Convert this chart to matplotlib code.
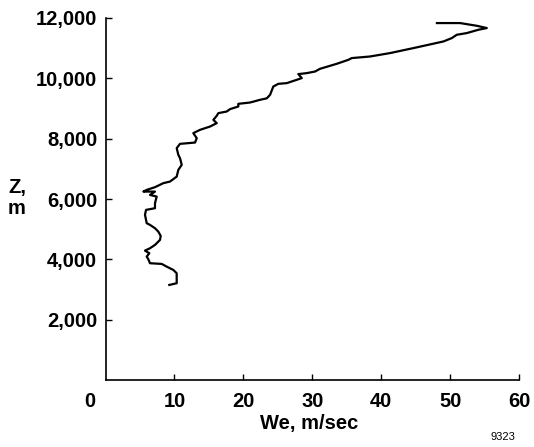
import matplotlib
matplotlib.use('Agg')
import matplotlib.pyplot as plt

# wind speed profile (bottom -> top)
we = [9.26, 10.33, 10.33, 9.84, 8.88, 8.16, 6.46, 6.21, 5.98, 6.36,
      5.73, 6.46, 7.18, 7.91, 8.01, 7.66, 7.18, 6.46, 5.98, 5.73,
      5.88, 7.18, 7.18, 7.43, 6.46, 7.18, 5.49, 5.98, 7.18, 8.39,
      9.36, 10.33, 10.57, 11.06, 10.81, 10.57, 10.33, 10.81, 12.99, 13.24,
      12.74, 13.72, 15.17, 16.14, 15.65, 16.14, 16.37, 17.59, 18.07, 19.27,
      19.27, 20.97, 22.42, 23.40, 23.88, 24.35, 25.08, 26.30, 27.75, 28.48,
      27.98, 29.20, 30.41, 31.13, 33.56, 35.24, 35.73, 38.39, 41.29, 44.67,
      49.03, 50.25, 50.97, 52.42, 54.11, 55.33, 53.88, 51.45, 48.09]
z = [3151, 3208, 3539, 3649, 3758, 3848, 3871, 4004, 4090, 4203,
     4289, 4368, 4478, 4644, 4776, 4919, 5032, 5141, 5198, 5473,
     5639, 5695, 5861, 6080, 6136, 6246, 6246, 6302, 6392, 6525,
     6578, 6743, 6966, 7132, 7354, 7463, 7686, 7828, 7871, 8017,
     8183, 8293, 8402, 8515, 8624, 8757, 8846, 8900, 8979, 9066,
     9155, 9198, 9288, 9337, 9453, 9729, 9818, 9841, 9951, 10008,
     10140, 10173, 10226, 10316, 10482, 10614, 10671, 10724, 10837, 11002,
     11222, 11334, 11444, 11500, 11610, 11666, 11742, 11832, 11832]

xticks = [10, 20, 30, 40, 50, 60]
yticks = [2000, 4000, 6000, 8000, 10000, 12000]
ylabels = ['2,000', '4,000', '6,000', '8,000', '10,000', '12,000']

plt.rcParams['font.family'] = ['Liberation Sans', 'DejaVu Sans']
plt.rcParams['font.weight'] = 'bold'
fs = 14.5

fig = plt.figure(figsize=(5.34, 4.47), dpi=100)
ax = fig.add_axes([105.5 / 534, 1 - 380 / 447, (519 - 105.5) / 534, (380 - 18) / 447])

ax.plot(we, z, color='black', lw=1.6)

ax.set_xlim(0, 60)
ax.set_ylim(0, 12000)
ax.set_xticks(xticks)
ax.set_xticklabels([str(t) for t in xticks])
ax.set_yticks(yticks)
ax.set_yticklabels(ylabels)
ax.tick_params(direction='in', length=4, width=1, labelsize=fs, color='black')
ax.tick_params(axis='x', pad=8.5)
ax.tick_params(axis='y', pad=6)
for lab in ax.get_xticklabels() + ax.get_yticklabels():
    lab.set_fontweight('bold')

ax.spines['top'].set_visible(False)
ax.spines['right'].set_visible(False)
ax.spines['left'].set_linewidth(1.2)
ax.spines['bottom'].set_linewidth(1.2)

# the "0" sits left of the corner in the original
ax.annotate('0', xy=(-2.25, 0), xycoords=('data', 'axes fraction'),
            xytext=(0, -8.5), textcoords='offset points',
            ha='center', va='top', fontsize=fs, fontweight='bold',
            annotation_clip=False)

fig.text(8 / 534, 1 - 198 / 447, 'Z,\nm', ha='left', va='center',
         fontsize=fs, fontweight='bold', linespacing=1.15)
fig.text(309 / 534, 1 - 423 / 447, 'We, m/sec', ha='center', va='center',
         fontsize=fs, fontweight='bold')
fig.text(503 / 534, 1 - 437 / 447, '9323', ha='center', va='center',
         fontsize=8, fontweight='normal')

plt.savefig('out.png', dpi=100)
